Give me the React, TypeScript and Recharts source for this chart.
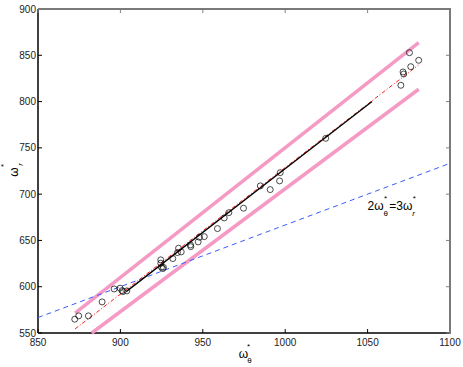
import React from 'react';
import { ScatterChart, Scatter, XAxis, YAxis, ReferenceDot, Label } from 'recharts';

const xTicks = [850, 900, 950, 1000, 1050, 1100];
const yTicks = [550, 600, 650, 700, 750, 800, 850, 900];

const pointX = [872.3, 874.7, 880.6, 888.9, 896.2, 899.8, 901.0, 901.5, 903.9, 924.5, 924.5, 924.9, 925.7, 926.1, 931.8, 934.6, 935.3, 936.9, 942.5, 942.7, 947.2, 948.0, 950.9, 958.9, 963.0, 965.8, 974.7, 984.9, 990.9, 996.6, 997.0, 1024.6, 1070.2, 1071.5, 1071.9, 1076.2, 1075.4, 1081.0];
const pointY = [564.9, 568.5, 568.5, 583.6, 597.6, 598.4, 595.8, 594.7, 595.5, 629.0, 625.4, 621.0, 619.6, 621.0, 630.4, 636.9, 641.6, 637.6, 645.1, 643.3, 648.4, 653.4, 654.1, 662.8, 674.3, 680.0, 684.8, 708.9, 704.9, 714.3, 723.2, 760.3, 817.6, 832.0, 829.8, 837.7, 852.8, 844.6];

const blueX = [850, 1100];
const blueY = [566.7, 733.3];
const blackX = [903.5, 1052.7];
const blackY = [594.7, 800];
const redX = [872.5, 1080.9];
const redY = [554.4, 839.5];
const pinkUpX = [872.5, 1081];
const pinkUpY = [571.4, 863.6];
const pinkLowX = [882.6, 1081];
const pinkLowY = [550, 813.3];

const X_MIN = 850, X_MAX = 1100, Y_MIN = 550, Y_MAX = 900;

const zip = (xs: number[], ys: number[]) => xs.map((x, i) => ({ x, y: ys[i] }));
const points = zip(pointX, pointY);
const blue = zip(blueX, blueY);
const black = zip(blackX, blackY);
const red = zip(redX, redY);
const pinkUp = zip(pinkUpX, pinkUpY);
const pinkLow = zip(pinkLowX, pinkLowY);
const frameTop = [{ x: X_MIN, y: Y_MAX }, { x: X_MAX, y: Y_MAX }];
const frameRight = [{ x: X_MAX, y: Y_MAX }, { x: X_MAX, y: Y_MIN }];
const topTicks = xTicks.map((t) => ({ x: t, y: Y_MAX }));
const rightTicks = yTicks.map((t) => ({ x: X_MAX, y: t }));

const FONT = 'Liberation Sans, Arial, Helvetica, sans-serif';
const FS = 10;

const BottomTick = (p: any) => (
  <g>
    <path d={`M${p.x},${p.y}L${p.x},${p.y - 4}`} stroke="#000" strokeWidth={1} fill="none" />
    <text x={p.x} y={p.y + 13} textAnchor="middle" fontSize={FS} fontFamily={FONT} fill="#222">{p.payload.value}</text>
  </g>
);
const LeftTick = (p: any) => (
  <g>
    <path d={`M${p.x},${p.y}L${p.x + 4},${p.y}`} stroke="#000" strokeWidth={1} fill="none" />
    <text x={p.x - 2} y={p.y + 3.5} textAnchor="end" fontSize={FS} fontFamily={FONT} fill="#222">{p.payload.value}</text>
  </g>
);

const noShape = () => <g />;
const downTick = (p: any) => <rect x={p.cx - 0.5} y={p.cy} width={1} height={4} fill="#808080" />;
const leftTick = (p: any) => <rect x={p.cx - 4} y={p.cy - 0.5} width={4} height={1} fill="#808080" />;
const circleShape = (p: any) => (
  <circle cx={p.cx} cy={p.cy} r={3} fill="none" stroke="#000" strokeWidth={0.7} />
);

const XLabel = (props: any) => {
  const vb = props.viewBox || { x: 38, y: 333, width: 412, height: 34 };
  const cx = vb.x + vb.width / 2 - 0.5;
  const cy = vb.y + 21;
  return (
    <g fontFamily={FONT} fill="#000">
      <text x={cx} y={cy} textAnchor="middle" dominantBaseline="central" fontSize={12}>ω</text>
      <text x={cx + 5} y={cy - 8} textAnchor="middle" dominantBaseline="central" fontSize={8}>*</text>
      <text x={cx + 6} y={cy + 6} textAnchor="middle" dominantBaseline="central" fontSize={8}>θ</text>
    </g>
  );
};

const YLabel = (props: any) => {
  const vb = props.viewBox || { x: 0, y: 9, width: 38, height: 324 };
  const cx = 13.5;
  const cy = vb.y + vb.height / 2 + 1;
  return (
    <g fontFamily={FONT} fill="#000" transform={`translate(${cx},${cy}) rotate(-90)`}>
      <text x={0} y={0} textAnchor="middle" dominantBaseline="central" fontSize={12}>ω</text>
      <text x={6.5} y={-10} textAnchor="middle" dominantBaseline="central" fontSize={8}>*</text>
      <text x={7.5} y={7} textAnchor="middle" dominantBaseline="central" fontSize={8} fontStyle="italic">r</text>
    </g>
  );
};

const Annotation = (props: any) => {
  const vb = props.viewBox || { x: 384, y: 206 };
  const cx = vb.x;
  const cy = vb.y;
  return (
    <g fontFamily={FONT} fill="#000">
      <text x={cx - 16.5} y={cy} dominantBaseline="central" fontSize={12}>2ω</text>
      <text x={cx + 1.6} y={cy - 8} textAnchor="middle" dominantBaseline="central" fontSize={8}>*</text>
      <text x={cx + 1.6} y={cy + 7} textAnchor="middle" dominantBaseline="central" fontSize={8}>θ</text>
      <text x={cx + 5.2} y={cy} dominantBaseline="central" fontSize={12}>=3ω</text>
      <text x={cx + 30.2} y={cy - 8} textAnchor="middle" dominantBaseline="central" fontSize={8}>*</text>
      <text x={cx + 29.5} y={cy + 7} textAnchor="middle" dominantBaseline="central" fontSize={8} fontStyle="italic">r</text>
    </g>
  );
};

export default function App() {
  return (
    <div style={{ position: 'absolute', left: 0, top: 0, width: 463, height: 367, background: '#fff' }}>
      <ScatterChart width={463} height={367} margin={{ top: 9, right: 13, bottom: 0, left: 0 }}>
        <XAxis
          type="number"
          dataKey="x"
          domain={[X_MIN, X_MAX]}
          ticks={xTicks}
          height={34}
          axisLine={{ stroke: '#000', strokeWidth: 1.5 }}
          tickLine={false}
          tickSize={0}
          tickMargin={0}
          tick={BottomTick}
          interval={0}
        >
          <Label content={XLabel} />
        </XAxis>
        <YAxis
          type="number"
          dataKey="y"
          domain={[Y_MIN, Y_MAX]}
          ticks={yTicks}
          width={38}
          axisLine={{ stroke: '#000', strokeWidth: 1.5 }}
          tickLine={false}
          tickSize={0}
          tickMargin={0}
          tick={LeftTick}
          interval={0}
        >
          <Label content={YLabel} />
        </YAxis>
        <Scatter data={frameTop} line={{ stroke: '#7a7a7a', strokeWidth: 2 }} shape={noShape} isAnimationActive={false} legendType="none" />
        <Scatter data={frameRight} line={{ stroke: '#7a7a7a', strokeWidth: 2 }} shape={noShape} isAnimationActive={false} legendType="none" />
        <Scatter data={topTicks} shape={downTick} isAnimationActive={false} legendType="none" />
        <Scatter data={rightTicks} shape={leftTick} isAnimationActive={false} legendType="none" />
        <Scatter data={pinkUp} line={{ stroke: '#f59ac5', strokeWidth: 3.5 }} shape={noShape} isAnimationActive={false} legendType="none" />
        <Scatter data={pinkLow} line={{ stroke: '#f59ac5', strokeWidth: 3.5 }} shape={noShape} isAnimationActive={false} legendType="none" />
        <Scatter data={blue} line={{ stroke: '#3a5cff', strokeWidth: 1, strokeDasharray: '5 4' }} shape={noShape} isAnimationActive={false} legendType="none" />
        <Scatter data={red} line={{ stroke: '#ff2020', strokeWidth: 1, strokeDasharray: '4 2 1 2' }} shape={noShape} isAnimationActive={false} legendType="none" />
        <Scatter data={black} line={{ stroke: '#000', strokeWidth: 1.3 }} shape={noShape} isAnimationActive={false} legendType="none" />
        <Scatter data={points} shape={circleShape} isAnimationActive={false} legendType="none" />
        <ReferenceDot x={1060} y={687} r={0} fill="none" stroke="none" ifOverflow="visible" label={Annotation} />
      </ScatterChart>
      <div
        style={{
          position: 'absolute',
          left: 38,
          top: 8,
          width: 413,
          height: 326,
          boxSizing: 'border-box',
          borderTop: '2px solid #7a7a7a',
          borderRight: '2px solid #7a7a7a',
          pointerEvents: 'none',
        }}
      />
    </div>
  );
}
